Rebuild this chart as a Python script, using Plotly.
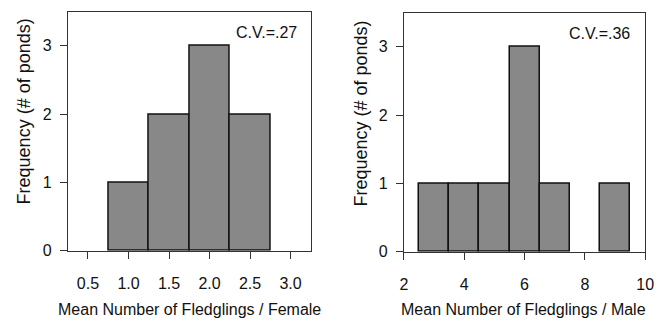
import plotly.graph_objects as go

# Female panel data
female_bin_centers = [1.0, 1.5, 2.0, 2.5]
female_counts = [1, 2, 3, 2]
female_bin_width = 0.5
female_ticks = [0.5, 1.0, 1.5, 2.0, 2.5, 3.0]
female_tick_labels = ["0.5", "1.0", "1.5", "2.0", "2.5", "3.0"]
female_cv = "C.V.=.27"

# Male panel data
male_bin_centers = [3, 4, 5, 6, 7, 9]
male_counts = [1, 1, 1, 3, 1, 1]
male_bin_width = 1.0
male_ticks = [2, 4, 6, 8, 10]
male_tick_labels = ["2", "4", "6", "8", "10"]
male_cv = "C.V.=.36"

y_ticks = [0, 1, 2, 3]

FONT = "Liberation Sans, Arial, sans-serif"
BAR_FILL = "#888888"
INK = "#111111"

fig = go.Figure()
fig.add_trace(go.Bar(x=female_bin_centers, y=female_counts, width=female_bin_width,
                     marker=dict(color=BAR_FILL, line=dict(color=INK, width=1.5)),
                     xaxis="x", yaxis="y", showlegend=False))
fig.add_trace(go.Bar(x=male_bin_centers, y=male_counts, width=male_bin_width,
                     marker=dict(color=BAR_FILL, line=dict(color=INK, width=1.5)),
                     xaxis="x2", yaxis="y2", showlegend=False))

axis_common = dict(showline=True, linecolor="#333", linewidth=1, mirror=True,
                   showgrid=False, zeroline=False, ticks="outside", ticklen=7,
                   tickcolor="#333", ticklabeloverflow="allow",
                   tickfont=dict(family=FONT, size=16, color=INK))

fig.update_layout(
    width=662, height=324,
    margin=dict(l=0, r=0, t=0, b=0),
    paper_bgcolor="white", plot_bgcolor="white",
    bargap=0,
    xaxis=dict(domain=[0.0982, 0.4728], range=[0.25, 3.25], tickvals=female_ticks,
               ticktext=female_tick_labels, anchor="y", ticklabelstandoff=11, **axis_common),
    yaxis=dict(domain=[0.2037, 0.963], range=[0, 3.5], tickvals=y_ticks,
               anchor="x", ticklabelstandoff=5, **axis_common),
    xaxis2=dict(domain=[0.6163, 0.9879], range=[2, 10], tickvals=male_ticks,
                ticktext=male_tick_labels, anchor="y2", ticklabelstandoff=11, **axis_common),
    yaxis2=dict(domain=[0.2006, 0.9599], range=[0, 3.5], tickvals=y_ticks,
                anchor="x2", ticklabelstandoff=5, **axis_common),
)

ann_font = dict(family=FONT, size=16, color=INK)
fig.add_annotation(text=female_cv, xref="x", yref="y", x=3.1, y=3.19,
                   xanchor="right", yanchor="middle", showarrow=False, font=ann_font)
fig.add_annotation(text=male_cv, xref="x2", yref="y2", x=9.55, y=3.2,
                   xanchor="right", yanchor="middle", showarrow=False, font=ann_font)
fig.add_annotation(text="Mean Number of Fledglings / Female", xref="paper", yref="paper",
                   x=189 / 662, y=1 - 318 / 324, xanchor="center", yanchor="middle",
                   showarrow=False, font=ann_font)
fig.add_annotation(text="Mean Number of Fledglings / Male", xref="paper", yref="paper",
                   x=530 / 662, y=1 - 318 / 324, xanchor="center", yanchor="middle",
                   showarrow=False, font=ann_font)
ytitle_font = dict(family=FONT, size=18, color=INK)
fig.add_annotation(text="Frequency (# of ponds)", xref="paper", yref="paper",
                   x=20 / 662, y=1 - 115 / 324, textangle=-90, xanchor="center",
                   yanchor="middle", showarrow=False, font=ytitle_font)
fig.add_annotation(text="Frequency (# of ponds)", xref="paper", yref="paper",
                   x=364 / 662, y=1 - 117 / 324, textangle=-90, xanchor="center",
                   yanchor="middle", showarrow=False, font=ytitle_font)

fig.write_html("out.html")
